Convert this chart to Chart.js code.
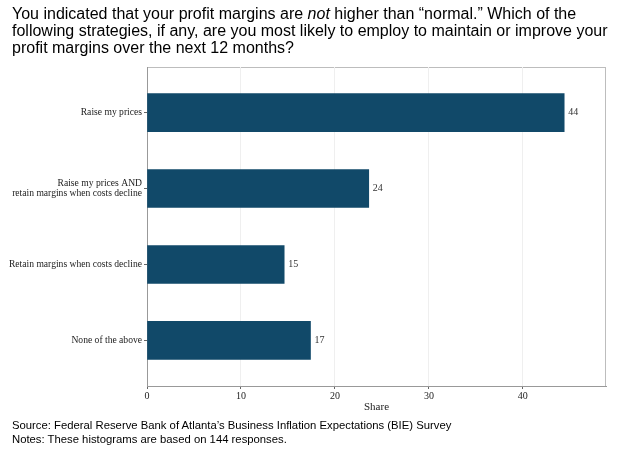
<!DOCTYPE html>
<html>
<head>
<meta charset="utf-8">
<script src="https://cdn.jsdelivr.net/npm/chart.js@4"></script>
<style>
  body { margin: 0; background: #fff; }
  #wrap { position: relative; width: 620px; height: 451px; }
  #title { position: absolute; left: 12px; top: 5px; font: 16px 'Liberation Sans', Arial, sans-serif; line-height: 17px; color: #000; }
  #notes { position: absolute; left: 12px; top: 418px; font: 11.3px 'Liberation Sans', Arial, sans-serif; line-height: 14px; color: #000; }
</style>
</head>
<body>
<div id="wrap">
  <canvas id="chart1" width="620" height="451"></canvas>
  <div id="title">You indicated that your profit margins are <i>not</i> higher than “normal.” Which of the<br>following strategies, if any, are you most likely to employ to maintain or improve your<br>profit margins over the next 12 months?</div>
  <div id="notes">Source: Federal Reserve Bank of Atlanta’s Business Inflation Expectations (BIE) Survey<br>Notes: These histograms are based on 144 responses.</div>
</div>
<script>
const categories = ['Raise my prices', ['Raise my prices AND', 'retain margins when costs decline'], 'Retain margins when costs decline', 'None of the above']
const shares = [44.4, 23.6, 14.6, 17.4]
const xTicks = [0, 10, 20, 30, 40]

const serif = "'Liberation Serif', 'Times New Roman', serif"

// panel border + value labels
const panelBorder = {
    id: 'panelBorder',
    beforeDraw(chart) {
        const { ctx, chartArea: a } = chart
        ctx.save()
        ctx.strokeStyle = '#bdbdbd'
        ctx.lineWidth = 1
        ctx.strokeRect(a.left + 0.5, a.top + 0.5, a.right - a.left - 1, a.bottom - a.top)
        ctx.restore()
    },
    afterDatasetsDraw(chart) {
        const { ctx } = chart
        const meta = chart.getDatasetMeta(0)
        ctx.save()
        ctx.font = '10px ' + serif
        ctx.fillStyle = '#333'
        ctx.textBaseline = 'middle'
        meta.data.forEach((bar, i) => {
            ctx.fillText(Math.round(shares[i]), bar.x + 4, bar.y)
        })
        ctx.restore()
    }
}

const data = {
    datasets: [{
        data: shares.map((v, i) => ({ x: v, y: i + 1 })),
        backgroundColor: '#114969',
        barThickness: 38
    }]
}

const options = {
    indexAxis: 'y',
    responsive: false,
    animation: false,
    layout: { padding: { top: 67, right: 14, left: 0, bottom: 35 } },
    plugins: {
        legend: { display: false },
        tooltip: { enabled: false }
    },
    scales: {
        x: {
            type: 'linear',
            min: 0,
            max: 48.85,
            afterBuildTicks: s => { s.ticks = xTicks.map(v => ({ value: v })) },
            afterFit: s => { s.height = 30 },
            grid: { color: '#efefef', tickColor: '#666', tickLength: 3 },
            border: { color: '#999' },
            ticks: { color: '#222', font: { family: serif, size: 10 }, padding: 1 },
            title: { display: true, text: 'Share', color: '#222', font: { family: serif, size: 11 }, padding: { top: 0, bottom: 2 } }
        },
        y: {
            type: 'linear',
            reverse: true,
            offset: false,
            min: 0.4,
            max: 4.6,
            afterBuildTicks: s => { s.ticks = [1, 2, 3, 4].map(v => ({ value: v })) },
            afterFit: s => { s.width = 147 },
            grid: { offset: false, drawOnChartArea: false, tickColor: '#666', tickLength: 3 },
            border: { color: '#999' },
            ticks: {
                color: '#222',
                font: { family: serif, size: 9.6, lineHeight: 1.1 },
                padding: 2,
                callback: v => categories[v - 1]
            }
        }
    }
}

new Chart('chart1', { type: 'bar', data, options, plugins: [panelBorder] })
</script>
</body>
</html>
